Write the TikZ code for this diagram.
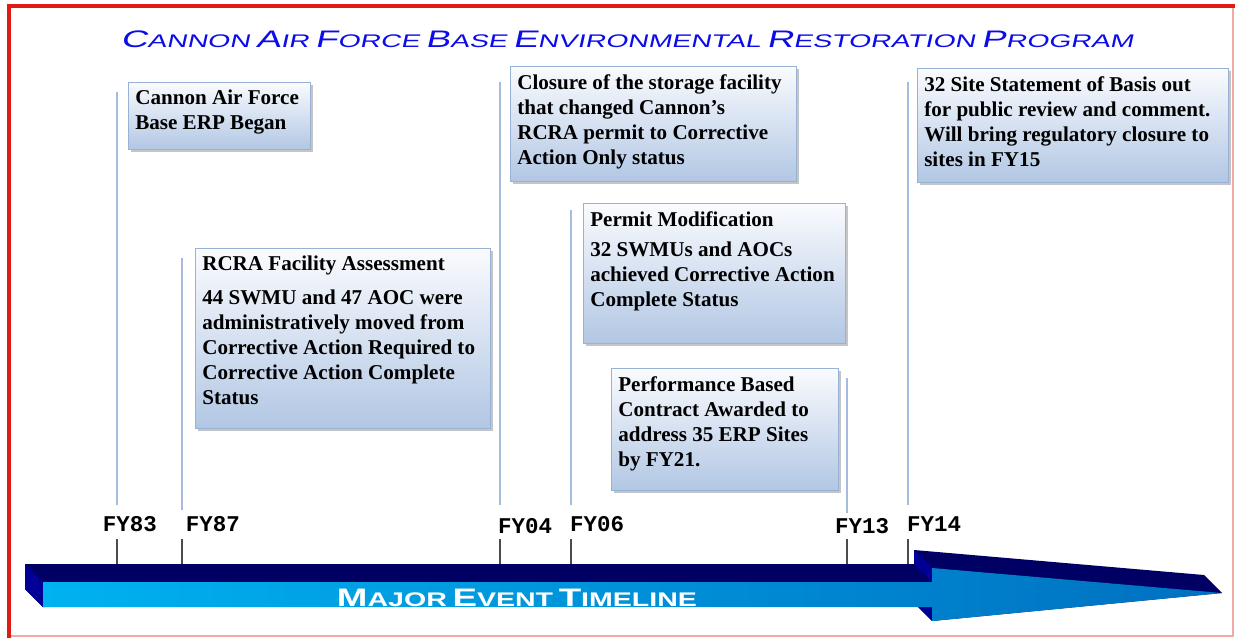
\documentclass[tikz,border=0pt]{standalone}
\usepackage{fontspec}
\setmainfont{Liberation Serif}
\newfontfamily\titlefont[FakeStretch=1.55,FakeSlant=0.22]{Liberation Sans}
\newfontfamily\bannerfont[FakeStretch=1.45]{Liberation Sans}
\newfontfamily\yearfont{Liberation Mono}
\usetikzlibrary{shadows}

\definecolor{titleblue}{RGB}{12,12,232}
\definecolor{framered}{RGB}{222,28,18}
\definecolor{framepink}{RGB}{240,170,165}
\definecolor{navy}{RGB}{0,0,100}
\definecolor{navyside}{RGB}{0,0,150}
\definecolor{barcyan}{RGB}{0,178,240}
\definecolor{barblue}{RGB}{0,112,192}
\definecolor{boxtop}{RGB}{250,251,254}
\definecolor{boxbottom}{RGB}{178,199,228}
\definecolor{boxline}{RGB}{150,178,214}
\definecolor{stemblue}{RGB}{165,188,222}

\tikzset{%
		stemline/.style={draw=stemblue,line width=1.3pt},
		yeartick/.style={draw=black!70,line width=.9pt},
		eventtext/.style={font=\fontsize{15}{17.8}\selectfont\bfseries,align=left,inner sep=0pt,anchor=north west},
		yeartext/.style={font=\yearfont\bfseries\fontsize{16}{16}\selectfont,inner sep=0pt,anchor=base},
		eventbox/.style={shade,top color=boxtop,bottom color=boxbottom,draw=boxline,line width=.7pt,
			drop shadow={shadow xshift=2.2pt,shadow yshift=-2.2pt,fill=black!45}}
	}
% capital letter followed by smaller capitals
\newcommand{\capsz}{17}
\newcommand{\lowsz}{13}
\newcommand{\capword}[2]{{\fontsize{\capsz}{\capsz}\selectfont #1}{\fontsize{\lowsz}{\capsz}\selectfont #2}}
\newcommand{\eventbox}[6]{
		\path[eventbox] (#2,#3) rectangle ++(#4,#5) ;
		\node[eventtext] (#1) at (#2+7,#3+8) {#6};
	}

\begin{document}
\begin{tikzpicture}[x=0.025cm,y=-0.025cm]
	\useasboundingbox (0,0) rectangle (1235,638) ;
	\fill[white] (0,0) rectangle (1235,638) ;
	% frame
	\draw[framepink,line width=1.2pt] (9,636) -- (1233,636) -- (1233,6) ;
	\draw[framered,line width=2.9pt] (9,638) -- (9,6) -- (1235,6) ;

	\node[font=\titlefont,text=titleblue,inner sep=0pt,anchor=base] (title) at (627,47)
		{\capword{C}{ANNON} \capword{A}{IR} \capword{F}{ORCE} \capword{B}{ASE} \capword{E}{NVIRONMENTAL} \capword{R}{ESTORATION} \capword{P}{ROGRAM}};

	% stems from the timeline up to the events
	\foreach \x/\top/\bot in {117/92/505,182/258/510,500/82/505,571/210/505,847/378/513,908/82/505}
		\draw[stemline] (\x,\top) -- (\x,\bot) ;

	\eventbox{began}{128}{82}{182}{67}{Cannon Air Force\\Base ERP Began}
	\eventbox{closure}{510}{66}{286}{115}{Closure of the storage facility\\that changed Cannon's\\RCRA permit to Corrective\\Action Only status}
	\eventbox{basis}{917}{68}{311}{114}{32 Site Statement of Basis out\\for public review and comment.\\Will bring regulatory closure to\\sites in FY15}
	\eventbox{rfa}{195}{248}{295}{180}{RCRA Facility Assessment\\[6pt]44 SWMU and 47 AOC were\\administratively moved from\\Corrective Action Required to\\Corrective Action Complete\\Status}
	\eventbox{permit}{583}{203}{262}{140}{Permit Modification\\[4pt]32 SWMUs and AOCs\\achieved Corrective Action\\Complete Status}
	\eventbox{contract}{611}{368}{227}{122}{Performance Based\\Contract Awarded to\\address 35 ERP Sites\\by FY21.}

	% years
	\node[yeartext] (fy83) at (130,531) {FY83};
	\node[yeartext] (fy87) at (213,531) {FY87};
	\node[yeartext] (fy04) at (525,533) {FY04};
	\node[yeartext] (fy06) at (597,531) {FY06};
	\node[yeartext] (fy13) at (862,533) {FY13};
	\node[yeartext] (fy14) at (934,531) {FY14};
	\foreach \x in {117,182,500,571,847,908}
		\draw[yeartick] (\x,539) -- (\x,565) ;

	% timeline arrow
	\fill[navy] (25,564) -- (914,564) -- (914,550) -- (1204,575) -- (1222,593) -- (932,621) -- (914,603) -- (43,607) -- (25,589) -- cycle ;
	\fill[navyside] (25,564) -- (43,582) -- (43,607) -- (25,589) -- cycle ;
	\fill[navyside] (914,550) -- (932,568) -- (932,582) -- (914,564) -- cycle ;
	\fill[navyside] (914,589) -- (932,607) -- (932,621) -- (914,603) -- cycle ;
	\shade[left color=barcyan,right color=barblue] (43,582) -- (932,582) -- (932,568) -- (1222,593) -- (932,621) -- (932,607) -- (43,607) -- cycle ;
	\node[font=\bannerfont\bfseries,text=white,inner sep=0pt,anchor=base] (banner) at (517,606)
		{\renewcommand{\capsz}{18}\renewcommand{\lowsz}{14}\capword{M}{AJOR} \capword{E}{VENT} \capword{T}{IMELINE}};
\end{tikzpicture}
\end{document}
